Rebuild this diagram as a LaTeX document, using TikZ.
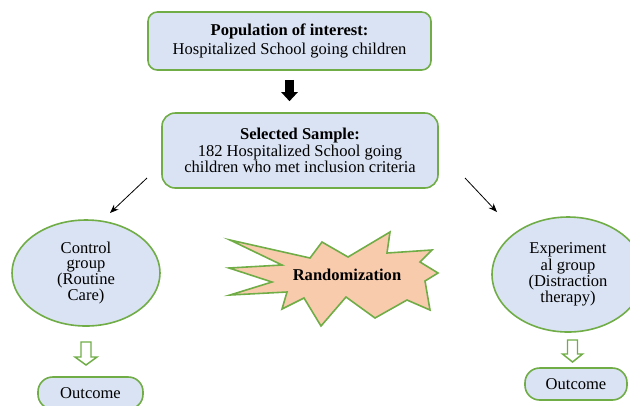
\documentclass[tikz,border=0pt]{standalone}
\usepackage{fontspec}
\setmainfont{Liberation Serif}
\usetikzlibrary{arrows.meta,shapes.geometric}
\definecolor{boxfill}{HTML}{DAE3F3}
\definecolor{boxline}{HTML}{70AD47}
\definecolor{burst}{HTML}{F8CBAD}
\begin{document}
\begin{tikzpicture}[x=0.75pt,y=-0.75pt,
  box/.style={draw=boxline,fill=boxfill,line width=1.2pt,rounded corners=7pt,align=center,inner sep=0pt},
  oval/.style={ellipse,draw=boxline,fill=boxfill,line width=1.2pt,align=center,inner sep=0pt,font=\fontsize{12.4}{11.2}\selectfont},
  hollow/.style={draw=boxline,fill=white,line width=1.1pt,line join=miter},
  thin arrow/.style={line width=0.6pt,-{Stealth[length=6.5pt,width=5pt]}},
]
\useasboundingbox (0,0) rectangle (630,405);
% boxes
\node[box,minimum width=283*0.75pt,minimum height=58*0.75pt,font=\fontsize{12.4}{14.2}\selectfont] (pop) at (289.5,41)
  {\textbf{Population of interest:}\\Hospitalized School going children};
\node[box,rounded corners=10pt,minimum width=276*0.75pt,minimum height=75*0.75pt,font=\fontsize{12.4}{11}\selectfont] (sample) at (300,150.5)
  {\textbf{Selected Sample:}\\182 Hospitalized School going\\children who met inclusion criteria};
\node[oval,minimum width=148*0.75pt,minimum height=106*0.75pt] (ctrl) at (86,273)
  {Control\\group\\(Routine\\Care)};
\node[oval,minimum width=152*0.75pt,minimum height=115*0.75pt] (exp) at (568,274.5)
  {Experiment\\al group\\(Distraction\\therapy)};
\node[box,rounded corners=11pt,minimum width=105*0.75pt,minimum height=32*0.75pt,font=\fontsize{12.4}{14}\selectfont] (outc) at (90.5,393) {Outcome};
\node[box,rounded corners=11pt,minimum width=102*0.75pt,minimum height=32*0.75pt,font=\fontsize{12.4}{14}\selectfont] (oute) at (576,384) {Outcome};
% black arrow
\draw[line width=6.75pt,-{Triangle[width=12pt,length=6.75pt]},shorten <=6.75pt,shorten >=8.25pt]
  (pop.south) -- (pop.south |- sample.north);
% diagonal arrows
\coordinate (dl1) at (147,178);
\coordinate (dl2) at (110,213);
\coordinate (dr1) at (465,178);
\coordinate (dr2) at (497,212);
\draw[thin arrow] (dl1) -- (dl2);
\draw[thin arrow] (dr1) -- (dr2);
% starburst
\draw[draw=boxline,fill=burst,line width=1.2pt,line join=miter]
  (230,240) -- (310,258) -- (322,242) -- (348,257) -- (390,232) -- (387,253)
  -- (432,250) -- (420,262) -- (438,273) -- (425,281) -- (430,310) -- (407,300)
  -- (375,318) -- (346,297) -- (321,326) -- (304,298) -- (282,309) -- (287,292)
  -- (230,295) -- (272,282) -- (229,268) -- (282,265) -- cycle;
\node[font=\fontsize{12.4}{14}\selectfont\bfseries] (rand) at (347,275) {Randomization};
% hollow arrows
\draw[hollow,shift={(86,342)}] (-5,0) -- (5,0) -- (5,15) -- (11,15) -- (0,23) -- (-11,15) -- (-5,15) -- cycle;
\draw[hollow,shift={(572.5,340)}] (-5,0) -- (5,0) -- (5,14) -- (10,14) -- (0,22) -- (-10,14) -- (-5,14) -- cycle;
\end{tikzpicture}
\end{document}
